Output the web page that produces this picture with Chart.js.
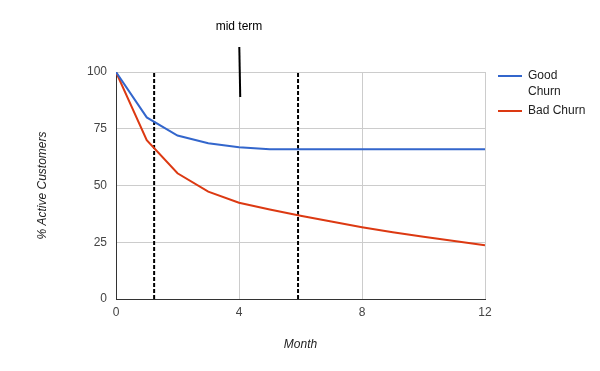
<!DOCTYPE html>
<html>
<head>
<meta charset="utf-8">
<script src="https://cdn.jsdelivr.net/npm/chart.js@4/dist/chart.umd.min.js"></script>
<style>
  html, body { margin: 0; padding: 0; background: #fff; }
  #wrap { width: 600px; height: 371px; }
</style>
</head>
<body>
<div id="wrap"><canvas id="churnChart" width="600" height="371"></canvas></div>
<script>
// months on the x axis
const months = [0, 1, 2, 3, 4, 5, 6, 7, 8, 9, 10, 11, 12];
// % active customers
const goodChurn = [100, 80, 72, 68.6, 66.8, 66, 66, 66, 66, 66, 66, 66, 66];
const badChurn = [100, 70, 55.4, 47.3, 42.4, 39.4, 36.7, 34.1, 31.6, 29.4, 27.4, 25.5, 23.7];
const seriesNames = ['Good Churn', 'Bad Churn'];
const seriesColors = ['#3366cc', '#dc3912'];

// dashed markers and the "mid term" callout
const markerMonths = [1.24, 5.92];
const midTermLine = [{ x: 4.01, y: 111 }, { x: 4.04, y: 89 }];
const midTermLabel = { x: 4.0, y: 120, text: 'mid term' };

const xTicks = [0, 4, 8, 12];
const yTicks = [0, 25, 50, 75, 100];

const FONT = '"Liberation Sans", Arial, sans-serif';

function toPoints(values) {
    return months.map((m, i) => ({ x: m, y: values[i] }));
}

const datasets = [
    {
        label: seriesNames[0],
        data: toPoints(goodChurn),
        borderColor: seriesColors[0],
        borderWidth: 2,
        pointRadius: 0,
        tension: 0
    },
    {
        label: seriesNames[1],
        data: toPoints(badChurn),
        borderColor: seriesColors[1],
        borderWidth: 2,
        pointRadius: 0,
        tension: 0
    }
];

markerMonths.forEach(function (m) {
    datasets.push({
        label: 'marker',
        data: [{ x: m, y: 0 }, { x: m, y: 100 }],
        borderColor: '#000',
        borderWidth: 2,
        borderDash: [4, 2],
        pointRadius: 0,
        isMarker: true
    });
});

datasets.push({
    label: 'mid term',
    data: midTermLine,
    borderColor: '#000',
    borderWidth: 2,
    pointRadius: 0,
    clip: false,
    isMarker: true
});

// legend on the right, with the wrapped "Good Churn" label
const sideLegend = {
    id: 'sideLegend',
    afterDraw(chart) {
        const ctx = chart.ctx;
        ctx.save();
        ctx.font = '12px ' + FONT;
        ctx.fillStyle = '#222';
        ctx.textBaseline = 'middle';
        ctx.lineWidth = 2;
        const rows = [
            { lines: ['Good', 'Churn'], y: 76, color: seriesColors[0] },
            { lines: ['Bad Churn'], y: 111, color: seriesColors[1] }
        ];
        rows.forEach(function (r) {
            ctx.strokeStyle = r.color;
            ctx.beginPath();
            ctx.moveTo(498, r.y);
            ctx.lineTo(522, r.y);
            ctx.stroke();
            r.lines.forEach(function (t, i) {
                ctx.fillText(t, 528, r.y + i * 16);
            });
        });

        // "mid term" text above the callout line
        const xs = chart.scales.x, ys = chart.scales.y;
        ctx.textAlign = 'center';
        ctx.fillStyle = '#000';
        ctx.fillText(midTermLabel.text, xs.getPixelForValue(midTermLabel.x), ys.getPixelForValue(midTermLabel.y));
        ctx.restore();
    }
};

new Chart(document.getElementById('churnChart'), {
    type: 'line',
    data: { datasets: datasets },
    options: {
        responsive: false,
        animation: false,
        layout: { padding: { left: 0, right: 115, top: 72, bottom: 0 } },
        plugins: {
            legend: { display: false },
            tooltip: { enabled: false }
        },
        scales: {
            x: {
                type: 'linear',
                min: 0,
                max: 12,
                afterBuildTicks(scale) { scale.ticks = xTicks.map(v => ({ value: v })); },
                afterFit(scale) { scale.height = 72; },
                ticks: { color: '#444', font: { family: FONT, size: 12 }, padding: 6, maxRotation: 0 },
                grid: { color: '#cccccc', drawTicks: false },
                border: { color: '#333', width: 1 },
                title: {
                    display: true,
                    text: 'Month',
                    color: '#222',
                    font: { family: FONT, size: 12, style: 'italic' },
                    padding: { top: 0, bottom: 19 }
                }
            },
            y: {
                min: 0,
                max: 100,
                afterBuildTicks(scale) { scale.ticks = yTicks.map(v => ({ value: v })); },
                afterFit(scale) { scale.width = 116; },
                ticks: { color: '#444', font: { family: FONT, size: 12 }, padding: 9 },
                grid: { color: '#cccccc', drawTicks: false },
                border: { color: '#333', width: 1 },
                title: {
                    display: true,
                    text: '% Active Customers',
                    color: '#222',
                    font: { family: FONT, size: 12, style: 'italic' },
                    padding: { top: 35, bottom: 0 }
                }
            }
        }
    },
    plugins: [sideLegend]
});
</script>
</body>
</html>
